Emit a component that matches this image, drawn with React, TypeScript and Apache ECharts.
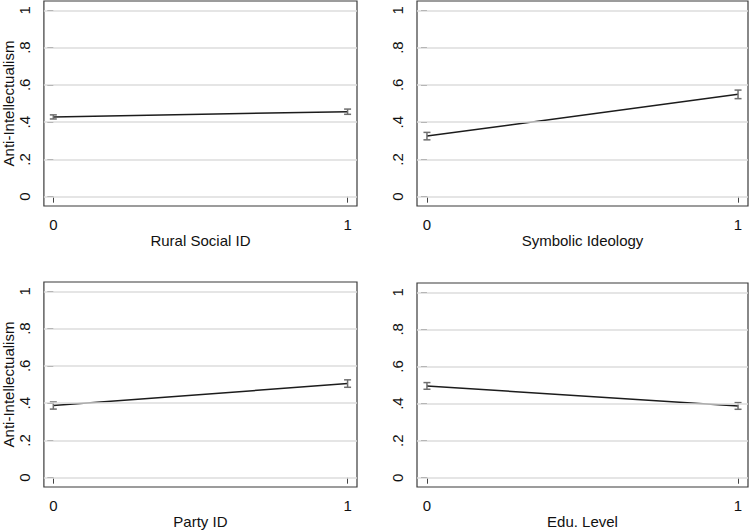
import React, { useEffect, useRef } from "react";
import * as echarts from "echarts";

const xValues = [0, 1];
const panelTitles = ["Rural Social ID", "Symbolic Ideology", "Party ID", "Edu. Level"];
const ruralMeans = [0.428, 0.456];
const ruralErr = [0.011, 0.014];
const symbolicMeans = [0.325, 0.549];
const symbolicErr = [0.02, 0.023];
const partyMeans = [0.387, 0.505];
const partyErr = [0.019, 0.02];
const eduMeans = [0.495, 0.387];
const eduErr = [0.018, 0.018];
const yTicks = [0, 0.2, 0.4, 0.6, 0.8, 1];
const yTickLabels = ["0", ".2", ".4", ".6", ".8", "1"];
const yAxisTitle = "Anti-Intellectualism";

const FONT = "Liberation Sans, Arial, sans-serif";

export default function App() {
  const ref = useRef<HTMLDivElement>(null);
  useEffect(() => {
    document.body.style.margin = "0";
    const chart = echarts.init(ref.current!, null, { renderer: "svg" });
    const means = [ruralMeans, symbolicMeans, partyMeans, eduMeans];
    const errs = [ruralErr, symbolicErr, partyErr, eduErr];
    const grids = [
      { left: 41, top: 1, width: 316, height: 205 },
      { left: 417, top: 1, width: 331, height: 205 },
      { left: 41, top: 282, width: 316, height: 205 },
      { left: 417, top: 283, width: 331, height: 205 },
    ];
    const grid = grids.map((g) => ({
      ...g,
      show: true,
      borderColor: "#3a3a3a",
      borderWidth: 1.2,
      backgroundColor: "#fff",
      containLabel: false,
    }));
    const xAxis = grids.map((_, i) => ({
      type: "value",
      gridIndex: i,
      min: -0.032,
      max: 1.032,
      name: panelTitles[i],
      nameLocation: "middle",
      nameGap: 27,
      nameTextStyle: { fontFamily: FONT, fontSize: 15, color: "#111" },
      axisLine: { show: false },
      axisTick: {
        show: true,
        customValues: xValues,
        length: 6,
        lineStyle: { color: "#444", width: 1 },
      },
      axisLabel: {
        customValues: xValues,
        formatter: (v: number) => String(v),
        fontFamily: FONT,
        fontSize: 15,
        color: "#111",
        margin: 11,
      },
      splitLine: { show: false },
    }));
    const yAxis = grids.map((_, i) => ({
      type: "value",
      gridIndex: i,
      min: -0.05,
      max: 1.05,
      name: i % 2 === 0 ? yAxisTitle : "",
      nameLocation: "middle",
      nameGap: 26,
      nameTextStyle: { fontFamily: FONT, fontSize: 15, color: "#111" },
      axisLine: { show: false },
      axisTick: {
        show: true,
        customValues: yTicks,
        length: 6,
        lineStyle: { color: "#444", width: 1 },
      },
      axisLabel: {
        customValues: yTicks,
        rotate: 90,
        formatter: (v: number) => {
          const idx = yTicks.findIndex((t) => Math.abs(t - v) < 1e-6);
          return idx >= 0 ? yTickLabels[idx] : "";
        },
        fontFamily: FONT,
        fontSize: 15,
        color: "#111",
        margin: 12,
      },
      splitLine: { show: false },
    }));
    const series: any[] = [];
    grids.forEach((_, i) => {
      series.push({
        type: "line",
        xAxisIndex: i,
        yAxisIndex: i,
        data: [],
        z: 1,
        silent: true,
        markLine: {
          silent: true,
          symbol: "none",
          label: { show: false },
          lineStyle: { color: "#dcdcdc", type: "solid", width: 1.5 },
          data: yTicks.map((t) => ({ yAxis: t })),
        },
      });
      series.push({
        type: "line",
        xAxisIndex: i,
        yAxisIndex: i,
        data: xValues.map((x, k) => [x, means[i][k]]),
        showSymbol: false,
        symbol: "none",
        lineStyle: { color: "#1c1c1c", width: 1.5 },
        z: 3,
      });
      series.push({
        type: "custom",
        xAxisIndex: i,
        yAxisIndex: i,
        z: 4,
        data: xValues.map((x, k) => [x, means[i][k] - errs[i][k], means[i][k] + errs[i][k]]),
        encode: { x: 0, y: [1, 2] },
        renderItem: (params: any, api: any) => {
          const x = api.value(0);
          const lo = api.coord([x, api.value(1)]);
          const hi = api.coord([x, api.value(2)]);
          const w = 3.5;
          const style = { stroke: "#6e6e6e", lineWidth: 1.5 };
          return {
            type: "group",
            children: [
              { type: "line", shape: { x1: lo[0], y1: lo[1], x2: hi[0], y2: hi[1] }, style },
              { type: "line", shape: { x1: lo[0] - w, y1: lo[1], x2: lo[0] + w, y2: lo[1] }, style },
              { type: "line", shape: { x1: hi[0] - w, y1: hi[1], x2: hi[0] + w, y2: hi[1] }, style },
            ],
          };
        },
      });
    });
    chart.setOption({
      animation: false,
      backgroundColor: "#fff",
      textStyle: { fontFamily: FONT },
      grid,
      xAxis,
      yAxis,
      series,
    });
    return () => chart.dispose();
  }, []);
  return <div ref={ref} style={{ width: 749, height: 530 }} />;
}
